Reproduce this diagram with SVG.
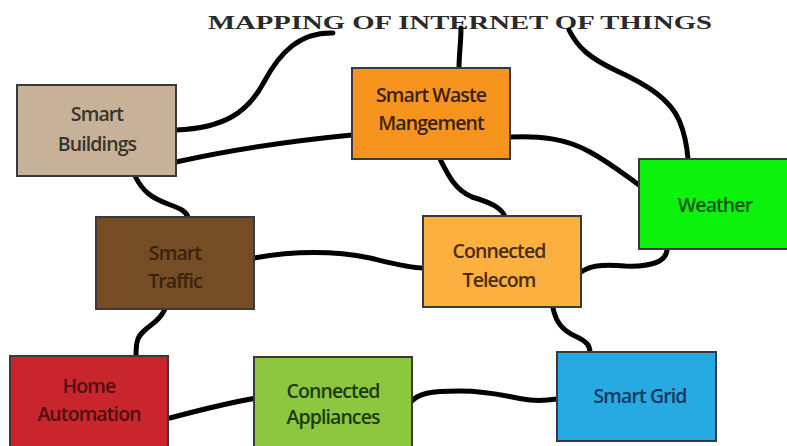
<svg xmlns="http://www.w3.org/2000/svg" width="787" height="446" viewBox="0 0 787 446">
<style>
.box{stroke:#3a3a3a;stroke-width:2}
.lbl{font-family:"Open Sans","Liberation Sans",sans-serif;font-weight:600;font-size:19.5px;text-anchor:middle;letter-spacing:-0.9px}
.con{fill:none;stroke:#000;stroke-width:5;stroke-linecap:round;stroke-linejoin:round}
.title{font-family:"Liberation Serif","DejaVu Serif",serif;font-weight:bold;font-size:19px;fill:#2a2a2a}
</style>
<rect width="787" height="446" fill="#fff"/>
<text class="title" x="208" y="29" textLength="504" lengthAdjust="spacingAndGlyphs">MAPPING OF INTERNET OF THINGS</text>
<g id="connectors">
<path class="con" d="M176,130 C225,128 248,112 264,82 C280,52 300,32 333,33"/>
<path class="con" d="M176,162 C230,150 300,140 352,135"/>
<path class="con" d="M135,176 C143,192 152,198 168,204 C182,209 187,212 188,218"/>
<path class="con" d="M459,68 C459,55 461,42 461,28"/>
<path class="con" d="M569,30 C578,48 590,58 615,70 C650,86 670,100 679,120 C685,134 687,146 688,159"/>
<path class="con" d="M511,137 C540,136 565,138 590,152 C610,163 625,175 639,185"/>
<path class="con" d="M440,159 C448,175 455,190 472,197 C492,203 502,208 505,217"/>
<path class="con" d="M254,258 C300,250 340,252 370,258 C395,264 410,268 423,268"/>
<path class="con" d="M581,272 C590,266 600,264 625,266 C650,267 666,262 667,250"/>
<path class="con" d="M553,308 C556,322 562,330 575,336 C588,342 590,346 590,353"/>
<path class="con" d="M165,309 C160,320 152,324 145,330 C138,336 136,340 136,356"/>
<path class="con" d="M170,418 C200,410 230,402 263,397"/>
<path class="con" d="M410,403 C418,393 430,391 460,391 C495,391 510,398 530,400 C540,401 550,400 557,399"/>
</g>
<g id="smart-buildings">
<rect class="box" x="17" y="85" width="159" height="91" fill="#C7B299"/>
<text class="lbl" x="97" y="121" fill="#3a332c">Smart</text>
<text class="lbl" x="97" y="151" fill="#3a332c">Buildings</text>
</g>
<g id="smart-waste">
<rect class="box" x="352" y="68" width="158" height="91" fill="#F7941D"/>
<text class="lbl" x="431" y="102" fill="#3b1f05">Smart Waste</text>
<text class="lbl" x="431" y="130" fill="#3b1f05">Mangement</text>
</g>
<g id="weather">
<rect class="box" x="639" y="159" width="150" height="90" fill="#0DF20D"/>
<text class="lbl" x="715" y="212" fill="#0b5a0b">Weather</text>
</g>
<g id="smart-traffic">
<rect class="box" x="96" y="217" width="158" height="92" fill="#754C24"/>
<text class="lbl" x="175" y="260" fill="#3a220e">Smart</text>
<text class="lbl" x="175" y="288" fill="#3a220e">Traffic</text>
</g>
<g id="connected-telecom">
<rect class="box" x="423" y="216" width="158" height="91" fill="#FBB040"/>
<text class="lbl" x="499" y="258" fill="#4a2c08">Connected</text>
<text class="lbl" x="499" y="287" fill="#4a2c08">Telecom</text>
</g>
<g id="home-automation">
<rect class="box" x="10" y="356" width="158" height="94" fill="#C9252D"/>
<text class="lbl" x="89" y="393" fill="#4e1010">Home</text>
<text class="lbl" x="89" y="421" fill="#4e1010">Automation</text>
</g>
<g id="connected-appliances">
<rect class="box" x="254" y="357" width="158" height="93" fill="#8DC63F"/>
<text class="lbl" x="333" y="398" fill="#1d3a0c">Connected</text>
<text class="lbl" x="333" y="424" fill="#1d3a0c">Appliances</text>
</g>
<g id="smart-grid">
<rect class="box" x="557" y="352" width="159" height="89" fill="#27AAE1"/>
<text class="lbl" x="640" y="403" fill="#12385e">Smart Grid</text>
</g>
</svg>
